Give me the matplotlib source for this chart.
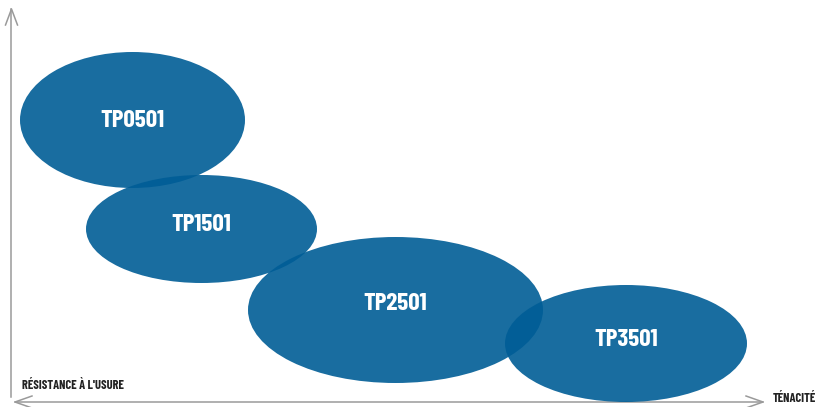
import matplotlib
matplotlib.use("Agg")
import matplotlib.pyplot as plt
from matplotlib.patches import Ellipse

# grades: toughness (x) and wear resistance (y) ranges, in picture units
grades = ["TP0501", "TP1501", "TP2501", "TP3501"]
tough_lo = [20, 86, 248, 505]
tough_hi = [245, 317, 543, 747]
wear_lo = [52, 175, 237, 285]
wear_hi = [188, 283, 383, 402]
label_dy = [1, -4, -6, -4]

y_label = "RÉSISTANCE À L'USURE"
x_label = "TÉNACITÉ"

FONT = ["Barlow Condensed", "Roboto Condensed", "DejaVu Sans"]

W, H = 817, 407
fig = plt.figure(figsize=(W / 100, H / 100), dpi=100)
ax = fig.add_axes([0, 0, 1, 1])
ax.set_xlim(0, W)
ax.set_ylim(H, 0)
ax.axis("off")

blue = "#005d96"
for name, x0, x1, y0, y1, dy in zip(grades, tough_lo, tough_hi, wear_lo, wear_hi, label_dy):
    cx, cy = (x0 + x1) / 2, (y0 + y1) / 2
    ax.add_patch(Ellipse((cx, cy), x1 - x0, y1 - y0, facecolor=blue,
                         edgecolor="none", alpha=0.9, zorder=2))
    ax.text(cx, cy + dy, name, color="white", fontsize=18, fontweight="bold",
            family=FONT, ha="center", va="center", zorder=3)

grey = "#9a9a9a"
# vertical axis with open arrow head
ax.plot([11.5, 11.5], [9, 397], color=grey, lw=1.1, zorder=1)
ax.plot([5.5, 11.5, 17.5], [25, 9, 25], color=grey, lw=1.1, zorder=1)
# horizontal axis, arrows on both ends
ax.plot([15, 763], [402, 402], color=grey, lw=1.1, zorder=1)
ax.plot([32, 15, 32], [396, 402, 408], color=grey, lw=1.1, zorder=1)
ax.plot([746, 763, 746], [396, 402, 408], color=grey, lw=1.1, zorder=1)

ax.text(22, 385, y_label, color="#222222", fontsize=9, fontweight="bold",
        family=FONT, ha="left", va="center")
ax.text(773, 398, x_label, color="#222222", fontsize=9, fontweight="bold",
        family=FONT, ha="left", va="center")

fig.savefig("out.png", dpi=100)
